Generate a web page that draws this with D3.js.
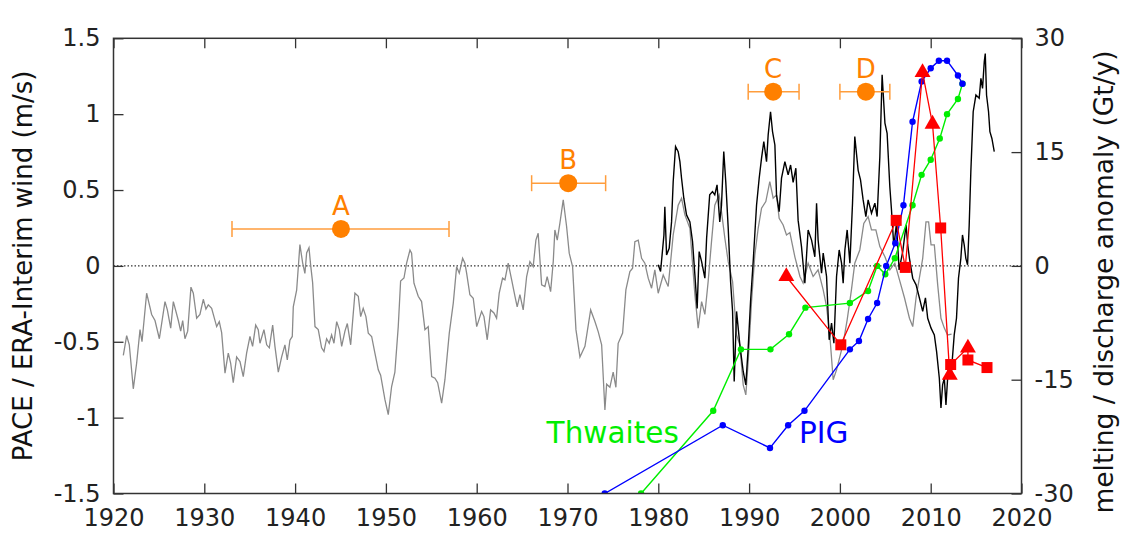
<!DOCTYPE html>
<html>
<head>
<meta charset="utf-8">
<script src="https://cdn.jsdelivr.net/npm/d3@7"></script>
<style>
  html, body { margin: 0; padding: 0; background: #fff; }
  svg { display: block; }
  text { font-family: "DejaVu Sans", sans-serif; }
</style>
</head>
<body>
<svg id="chart" width="1124" height="535"></svg>
<script>
// ---------------- DATA ----------------
const xTicks = [1920, 1930, 1940, 1950, 1960, 1970, 1980, 1990, 2000, 2010, 2020];
const xTickLabels = ["1920","1930","1940","1950","1960","1970","1980","1990","2000","2010","2020"];
const leftTicks = [-1.5, -1, -0.5, 0, 0.5, 1, 1.5];
const leftTickLabels = ["-1.5","-1","-0.5","0","0.5","1","1.5"];
const rightTicks = [-30, -15, 0, 15, 30];
const rightTickLabels = ["-30","-15","0","15","30"];

// PACE reconstructed wind (grey), [year, m/s]
const paceYears = [1921.08,1921.45,1921.74,1922.18,1922.55,1922.92,1923.14,1923.65,1924.2,1924.57,1925.05,1925.67,1925.93,1926.3,1926.59,1927.14,1927.4,1927.62,1927.87,1928.17,1928.53,1928.79,1929.16,1929.52,1929.89,1930.18,1930.44,1930.81,1931.36,1931.65,1931.91,1932.28,1932.64,1932.9,1933.19,1933.56,1933.93,1934.29,1934.66,1935.03,1935.32,1935.66,1935.94,1936.13,1936.57,1936.87,1937.16,1937.53,1937.78,1938.15,1938.52,1938.88,1939.14,1939.43,1939.69,1939.8,1940.17,1940.53,1940.83,1941.08,1941.27,1941.53,1941.71,1941.93,1942.19,1942.55,1942.92,1943.18,1943.47,1943.76,1944.02,1944.28,1944.58,1944.87,1945.13,1945.49,1945.75,1946.12,1946.59,1946.96,1947.22,1947.5,1947.8,1948.06,1948.43,1948.79,1949.16,1949.42,1949.9,1950.26,1950.63,1950.99,1951.36,1951.62,1951.99,1952.28,1952.65,1952.83,1953.09,1953.56,1953.93,1954.3,1954.66,1955.04,1955.4,1955.7,1956.14,1956.5,1956.98,1957.42,1957.79,1958.08,1958.45,1958.7,1958.89,1959.25,1959.62,1960.0,1960.54,1960.8,1961.16,1961.53,1961.9,1962.19,1962.48,1962.85,1963.11,1963.47,1963.85,1964.21,1964.46,1964.76,1965.12,1965.5,1965.86,1966.22,1966.52,1966.77,1967.15,1967.51,1967.76,1968.14,1968.43,1968.61,1968.87,1969.16,1969.53,1969.9,1970.19,1970.56,1970.93,1971.37,1971.92,1972.55,1973.02,1973.38,1973.76,1974.12,1974.31,1974.67,1975.03,1975.33,1975.58,1976.07,1976.43,1976.87,1977.17,1977.42,1977.79,1978.16,1978.52,1978.89,1979.26,1979.62,1979.99,1980.54,1981.09,1981.64,1982.19,1982.56,1982.93,1983.48,1984.03,1984.39,1984.77,1985.13,1985.49,1985.86,1986.22,1986.7,1986.96,1987.33,1987.7,1988.18,1988.62,1988.98,1989.35,1989.64,1989.9,1990.27,1990.63,1991.0,1991.37,1991.84,1992.28,1992.65,1993.02,1993.31,1993.75,1994.12,1994.49,1995.04,1995.6,1995.95,1996.5,1997.05,1997.6,1998.16,1998.53,1998.9,1999.26,1999.63,1999.99,2000.36,2000.8,2001.27,2001.64,2002.19,2002.63,2003.11,2003.48,2003.96,2004.4,2004.96,2005.5,2006.05,2006.6,2007.11,2007.66,2008.02,2008.39,2008.75,2009.12,2009.48,2009.77,2010.04,2010.4,2010.77,2011.13,2011.5,2011.86,2012.3];
const paceWind = [-0.59,-0.46,-0.52,-0.81,-0.64,-0.42,-0.50,-0.18,-0.32,-0.36,-0.48,-0.235,-0.29,-0.41,-0.235,-0.36,-0.43,-0.36,-0.48,-0.43,-0.14,-0.18,-0.345,-0.32,-0.22,-0.285,-0.257,-0.28,-0.40,-0.367,-0.44,-0.707,-0.575,-0.64,-0.77,-0.60,-0.63,-0.73,-0.575,-0.465,-0.53,-0.39,-0.42,-0.51,-0.42,-0.52,-0.54,-0.39,-0.53,-0.70,-0.60,-0.52,-0.62,-0.49,-0.465,-0.27,-0.16,0.14,0.02,-0.05,0.085,0.12,0.007,-0.11,-0.40,-0.42,-0.54,-0.565,-0.48,-0.51,-0.455,-0.51,-0.367,-0.42,-0.53,-0.43,-0.38,-0.52,-0.18,-0.20,-0.334,-0.28,-0.334,-0.443,-0.465,-0.575,-0.685,-0.72,-0.883,-0.98,-0.795,-0.70,-0.40,-0.10,-0.08,0.018,0.105,0.084,-0.114,-0.20,-0.235,-0.42,-0.40,-0.73,-0.74,-0.77,-0.905,-0.75,-0.443,-0.245,-0.005,-0.048,0.05,0.018,-0.048,-0.19,-0.213,-0.40,-0.30,-0.334,-0.487,-0.29,-0.31,-0.345,-0.18,-0.081,-0.092,0.018,-0.092,-0.20,-0.27,-0.19,-0.29,-0.07,0.028,-0.005,0.17,0.215,-0.125,-0.136,-0.07,-0.17,0.028,0.237,0.17,0.28,0.435,0.26,0.084,-0.005,-0.42,-0.60,-0.53,-0.29,-0.367,-0.433,-0.52,-0.95,-0.78,-0.80,-0.70,-0.80,-0.51,-0.443,-0.158,-0.037,-0.015,0.16,0.17,0.05,0.018,-0.081,-0.147,-0.026,-0.18,-0.06,-0.136,0.204,0.40,0.446,0.336,0.248,-0.19,-0.41,-0.235,-0.32,-0.103,0.16,0.40,0.468,0.358,0.182,0.028,-0.103,-0.455,-0.52,-0.784,-0.85,-0.63,-0.235,0.072,0.248,0.38,0.424,0.555,0.446,0.468,0.314,0.27,0.204,0.22,0.06,-0.07,-0.114,0.018,-0.07,-0.026,-0.158,-0.268,-0.465,-0.75,-0.685,-0.60,-0.51,-0.356,-0.158,0.018,0.105,0.28,0.325,0.237,0.237,0.127,0.06,-0.026,0.018,-0.10,-0.21,-0.345,-0.40,-0.21,-0.081,0.05,0.29,0.29,0.138,0.138,-0.125,-0.345,-0.41,-0.455,-0.45];

// ERA-Interim wind (black), [year, m/s]
const eraYears = [1979.99,1980.25,1980.62,1980.72,1980.91,1981.2,1981.46,1981.64,1981.9,1982.19,1982.38,1982.56,1982.81,1983.11,1983.48,1983.77,1984.03,1984.28,1984.5,1984.77,1985.13,1985.32,1985.66,1985.97,1986.22,1986.47,1986.77,1986.96,1987.21,1987.43,1987.7,1987.96,1988.18,1988.36,1988.62,1988.98,1989.35,1989.64,1989.9,1990.16,1990.45,1990.82,1991.11,1991.37,1991.62,1991.92,1992.1,1992.36,1992.58,1992.84,1993.02,1993.31,1993.57,1993.94,1994.3,1994.57,1994.85,1995.15,1995.4,1995.77,1996.14,1996.5,1996.88,1997.24,1997.43,1997.6,1997.98,1998.16,1998.53,1998.82,1999.08,1999.34,1999.63,1999.92,2000.18,2000.36,2000.55,2000.8,2001.1,2001.39,2001.64,2002.01,2002.27,2002.56,2002.86,2003.11,2003.48,2003.85,2004.1,2004.4,2004.65,2004.96,2005.2,2005.5,2005.68,2005.94,2006.23,2006.52,2006.92,2007.29,2007.47,2007.66,2008.02,2008.39,2008.75,2009.12,2009.42,2009.67,2010.04,2010.4,2010.65,2010.95,2011.13,2011.31,2011.5,2011.68,2011.96,2012.22,2012.59,2012.84,2013.06,2013.32,2013.5,2013.69,2013.87,2014.06,2014.24,2014.42,2014.68,2014.98,2015.34,2015.53,2015.71,2015.9,2016.01,2016.15,2016.37,2016.52,2016.74,2017.0];
const eraWind = [0.007,-0.037,0.204,0.39,0.072,0.116,0.29,0.555,0.786,0.753,0.687,0.578,0.446,0.336,0.29,0.16,-0.06,-0.28,0.094,0.028,-0.081,0.182,0.468,0.49,0.468,0.534,0.29,0.40,0.753,0.555,0.248,-0.103,-0.30,-0.762,-0.30,-0.52,-0.696,-0.784,-0.54,-0.235,0.028,0.40,0.578,0.71,0.82,0.687,0.863,1.016,0.885,0.797,0.468,0.358,0.578,0.687,0.60,0.665,0.55,0.644,0.30,0.127,-0.114,0.237,0.17,0.06,0.413,0.17,-0.048,0.084,-0.07,-0.487,-0.377,-0.51,-0.07,0.105,0.018,-0.114,0.105,0.237,0.018,0.413,0.852,0.63,0.567,0.435,0.325,0.435,0.347,0.413,0.325,0.72,1.26,0.94,0.874,0.52,0.37,0.127,0.28,-0.026,0.094,0.27,0.138,0.05,-0.081,-0.125,-0.21,-0.30,-0.21,-0.345,-0.41,-0.455,-0.565,-0.74,-0.937,-0.784,-0.74,-0.916,-0.652,-0.74,-0.455,-0.345,-0.081,0.05,0.204,0.138,0.05,0.007,0.27,0.62,1.016,1.126,1.105,1.236,1.17,1.346,1.40,1.126,1.016,0.885,0.84,0.753];

// PIG discharge anomaly (blue), Gt/y
const pigYears = [1974.1,1987.1,1992.3,1994.3,1996.1,2001.1,2002.1,2003.1,2004.1,2005.1,2006.1,2007.0,2008.0,2009.0,2010.0,2010.9,2011.8,2013.0,2013.5];
const pigAnom  = [-30,-21,-24,-21,-19.1,-11,-9.9,-7,-4.9,0,3,8,19,24.3,26.05,27.05,27.05,25.1,24.0];

// Thwaites discharge anomaly (green), Gt/y
const thwYears = [1978.1,1986.05,1989.1,1992.35,1994.4,1996.2,2001.1,2003.1,2004.1,2005.0,2006.05,2008.0,2009.0,2010.0,2011.0,2011.8,2013.0,2013.5];
const thwAnom  = [-30,-19.1,-11,-11,-9,-5.5,-4.9,-3.3,0,-1.1,1.0,8.0,12.0,14.0,16.8,20.0,22.0,24.0];

// PIG melting anomaly (red): squares and triangles, Gt/y
const meltSqYears  = [2000.1,2006.2,2007.2,2011.1,2012.2,2014.1,2016.2];
const meltSqAnom   = [-10.4,6.0,-0.2,5.0,-13.0,-12.4,-13.4];
const meltTriYears = [1994.1,2009.1,2010.2,2012.1,2014.1];
const meltTriAnom  = [-1.4,25.5,18.7,-14.4,-10.8];

// Orange event markers A-D (left axis)
const eventLabels = ["A","B","C","D"];
const eventYears  = [1945.05,1970.08,1992.65,2002.86];
const eventLow    = [1933.05,1966.05,1989.9,2000.0];
const eventHigh   = [1956.95,1974.2,1995.5,2005.5];
const eventValue  = [0.244,0.545,1.148,1.148];

// ---------------- LAYOUT ----------------
const svg = d3.select("#chart");
const L = 113.5, R = 1021.5, T = 38.3, B = 493.5;
const x = d3.scaleLinear().domain([1920, 2020]).range([L, R]);
const yL = d3.scaleLinear().domain([-1.5, 1.5]).range([B, T]);
const yR = d3.scaleLinear().domain([-30, 30]).range([B, T]);

const fs = 24;
const axisColor = "#333";

svg.append("defs").append("clipPath").attr("id","clip")
  .append("rect").attr("x", L).attr("y", T).attr("width", R-L).attr("height", B-T);

const plot = svg.append("g").attr("clip-path","url(#clip)");

plot.append("line").attr("x1", L).attr("x2", R).attr("y1", yL(0)).attr("y2", yL(0))
  .attr("stroke", "#000").attr("stroke-width", 1).attr("stroke-dasharray", "1.5,2");

const lineL = d3.line().x(d => x(d[0])).y(d => yL(d[1]));
const lineR = d3.line().x(d => x(d[0])).y(d => yR(d[1]));

const pace = paceYears.map((t,i) => [t, paceWind[i]]);
const era = eraYears.map((t,i) => [t, eraWind[i]]);
plot.append("path").datum(pace).attr("d", lineL).attr("fill","none")
  .attr("stroke","#8a8a8a").attr("stroke-width",1.3);
plot.append("path").datum(era).attr("d", lineL).attr("fill","none")
  .attr("stroke","#000").attr("stroke-width",1.4);

const pig = pigYears.map((t,i) => [t, pigAnom[i]]);
const thw = thwYears.map((t,i) => [t, thwAnom[i]]);
function series(data, color) {
  plot.append("path").datum(data).attr("d", lineR).attr("fill","none")
    .attr("stroke", color).attr("stroke-width", 1.4);
  plot.selectAll(null).data(data).enter().append("circle")
    .attr("cx", d => x(d[0])).attr("cy", d => yR(d[1])).attr("r", 3.2).attr("fill", color);
}
series(thw, "#00ee00");
series(pig, "#0000ff");

const sq = meltSqYears.map((t,i) => ({t, v: meltSqAnom[i], k:"s"}));
const tri = meltTriYears.map((t,i) => ({t, v: meltTriAnom[i], k:"t"}));
const redAll = sq.concat(tri).sort((a,b) => a.t - b.t || (a.k === "t" ? -1 : 1));
plot.append("path").datum(redAll.map(d => [d.t, d.v])).attr("d", lineR).attr("fill","none")
  .attr("stroke","#ff0000").attr("stroke-width",1.3);
plot.selectAll(null).data(sq).enter().append("rect")
  .attr("x", d => x(d.t) - 5.5).attr("y", d => yR(d.v) - 5.5)
  .attr("width", 11).attr("height", 11).attr("fill","#ff0000");
const triSym = d3.symbol().type(d3.symbolTriangle).size(110);
plot.selectAll(null).data(tri).enter().append("path")
  .attr("transform", d => `translate(${x(d.t)},${yR(d.v)})`)
  .attr("d", triSym).attr("fill","#ff0000");

const orange = "#ff8000", orangeLight = "#ff9d3c";
eventLabels.forEach((lab, i) => {
  const g = svg.append("g");
  const yy = yL(eventValue[i]);
  g.append("line").attr("x1", x(eventLow[i])).attr("x2", x(eventHigh[i]))
    .attr("y1", yy).attr("y2", yy).attr("stroke", orangeLight).attr("stroke-width", 1.5);
  [eventLow[i], eventHigh[i]].forEach(e => {
    g.append("line").attr("x1", x(e)).attr("x2", x(e)).attr("y1", yy - 8).attr("y2", yy + 8)
      .attr("stroke", orangeLight).attr("stroke-width", 1.5);
  });
  g.append("circle").attr("cx", x(eventYears[i])).attr("cy", yy).attr("r", 9).attr("fill", orange);
  g.append("text").attr("x", x(eventYears[i])).attr("y", yy - 14)
    .attr("text-anchor","middle").attr("font-size", 26).attr("fill", orange).text(lab);
});

svg.append("text").attr("x", x(1967.7)).attr("y", yR(-23.3)).attr("font-size", 29.5)
  .attr("fill", "#00ee00").text("Thwaites");
svg.append("text").attr("x", x(1995.5)).attr("y", yR(-23.3)).attr("font-size", 29.5)
  .attr("fill", "#0000ff").text("PIG");

function styleAxis(g) {
  g.selectAll(".domain").remove();
  g.selectAll(".tick line").attr("stroke", axisColor).attr("stroke-width", 1.3);
  g.selectAll(".tick text").attr("fill", "#222").attr("font-size", fs)
    .attr("font-family", "DejaVu Sans, sans-serif");
}
const xb = svg.append("g").attr("transform", `translate(0,${B})`)
  .call(d3.axisBottom(x).tickValues(xTicks).tickSizeInner(-10).tickSizeOuter(0).tickPadding(10)
    .tickFormat((d,i) => xTickLabels[i]));
styleAxis(xb);
xb.selectAll(".tick text").attr("dy", "0.95em");
const xt = svg.append("g").attr("transform", `translate(0,${T})`)
  .call(d3.axisTop(x).tickValues(xTicks).tickSizeInner(-10).tickSizeOuter(0).tickFormat(""));
styleAxis(xt);
const yl = svg.append("g").attr("transform", `translate(${L},0)`)
  .call(d3.axisLeft(yL).tickValues(leftTicks).tickSizeInner(-10).tickSizeOuter(0).tickPadding(13)
    .tickFormat((d,i) => leftTickLabels[i]));
styleAxis(yl);
const yr = svg.append("g").attr("transform", `translate(${R},0)`)
  .call(d3.axisRight(yR).tickValues(rightTicks).tickSizeInner(-10).tickSizeOuter(0).tickPadding(13)
    .tickFormat((d,i) => rightTickLabels[i]));
styleAxis(yr);

svg.append("rect").attr("x", L).attr("y", T).attr("width", R-L).attr("height", B-T)
  .attr("fill","none").attr("stroke", axisColor).attr("stroke-width", 1.5);

svg.append("text").attr("transform", `translate(32,${(T+B)/2}) rotate(-90)`)
  .attr("text-anchor","middle").attr("font-size", 26).attr("fill","#111")
  .text("PACE / ERA-Interim wind (m/s)");
svg.append("text").attr("transform", `translate(1113,${(T+B)/2 + 16}) rotate(-90)`)
  .attr("text-anchor","middle").attr("font-size", 26.5).attr("fill","#111")
  .text("melting / discharge anomaly (Gt/y)");
</script>
</body>
</html>
